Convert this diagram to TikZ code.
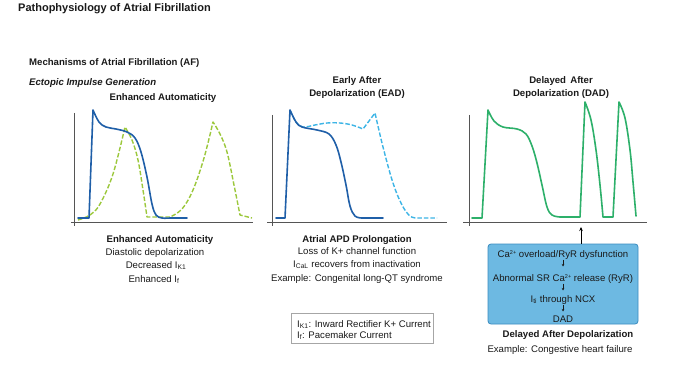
\documentclass[tikz,border=0pt]{standalone}
\usepackage{fontspec}
\setmainfont{Liberation Sans}
\usetikzlibrary{arrows.meta}
\definecolor{apblue}{HTML}{1F5FA8}
\definecolor{aplightblue}{HTML}{3DB5E6}
\definecolor{apyellowgreen}{HTML}{9CC83C}
\definecolor{apgreen}{HTML}{2DB06A}
\definecolor{axisgray}{HTML}{555555}
\definecolor{boxfill}{HTML}{6DB9E2}
\definecolor{boxline}{HTML}{3A8CC0}
\definecolor{txt}{HTML}{1A1A1A}
\newcommand{\supsmall}[1]{\raisebox{0.55ex}{\fontsize{5.5}{6}\selectfont #1}}
\tikzset{
  txtn/.style={inner sep=0pt, anchor=base, text=txt, font=\fontsize{9.6}{11.5}\selectfont},
  boldn/.style={txtn, font=\fontsize{9.6}{11.5}\selectfont\bfseries},
  axisline/.style={draw=axisgray, line width=0.8pt},
  curve/.style={line width=1.6pt, line join=round, line cap=round},
  dashcurve/.style={line width=1.4pt, dash pattern=on 4.5pt off 2pt, line join=round},
  smallarrow/.style={draw=txt, line width=0.6pt, -{Stealth[length=2.5pt,width=2.5pt]}},
}
\begin{document}
\begin{tikzpicture}[x=1pt,y=-1pt]
\useasboundingbox (0,0) rectangle (700,374);
\fill[white] (0,0) rectangle (700,374);

% headings
\node[boldn, anchor=base west, font=\fontsize{11}{13}\selectfont\bfseries] (title) at (18,12) {Pathophysiology of Atrial Fibrillation};
\node[boldn, anchor=base west] (mech) at (29,66) {Mechanisms of Atrial Fibrillation (AF)};
\node[boldn, anchor=base west, font=\fontsize{9.6}{11.5}\selectfont\bfseries\itshape] (ectopic) at (29,86) {Ectopic Impulse Generation};
\node[boldn] (eatitle) at (163,101) {Enhanced Automaticity};
\node[boldn] (eadt1) at (357,84) {Early After};
\node[boldn] (eadt2) at (357,97) {Depolarization (EAD)};
\node[boldn] (dadt1) at (561,84) {Delayed\, After};
\node[boldn] (dadt2) at (561,97) {Depolarization (DAD)};

% axes
\draw[axisline] (74,113) -- (74,226);
\draw[axisline] (71,222) -- (253,222);
\draw[axisline] (272,115) -- (272,226);
\draw[axisline] (267,222) -- (447,222);
\draw[axisline] (469,115) -- (469,226);
\draw[axisline] (463,222) -- (647,222);

% panel 1 curves
\draw[dashcurve, apyellowgreen] plot[smooth, tension=0.6] coordinates {(78,220) (90,215) (100,204) (113,174) (125,127)}
  -- plot[smooth, tension=0.6] coordinates {(125,127) (132,140) (138,160) (143,190) (147,217)}
  -- (170,217)
  -- plot[smooth, tension=0.6] coordinates {(170,217) (182,209) (193,190) (204,158) (213,122)}
  -- plot[smooth, tension=0.6] coordinates {(213,122) (220,134) (227,152) (234,185) (240,215)}
  -- (252,218);
\draw[curve, apblue] (78,218) -- (89,218) -- (93,110)
  -- plot[smooth, tension=0.6] coordinates {(93,110) (99,122) (106,127) (116,129) (127,132) (135,138) (141,152) (147,177) (152,204) (156,215) (162,218) (170,218)}
  -- (187,218);

% panel 2 curves
\draw[dashcurve, aplightblue] plot[smooth, tension=0.6] coordinates {(290,110) (296,122) (303,127) (315,125) (327,123) (340,123) (352,125) (363,129)}
  -- (375,113)
  -- plot[smooth, tension=0.6] coordinates {(375,113) (383,147) (393,183) (402,205) (410,216) (417,218)}
  -- (437,218);
\draw[curve, apblue] (276,218) -- (285,218) -- (290,110)
  -- plot[smooth, tension=0.6] coordinates {(290,110) (296,122) (302,127) (317,130) (329,134) (336,145) (341,162) (346,185) (350,206) (355,216) (362,218)}
  -- (383,218);

% panel 3 curve
\draw[curve, apgreen] (472,218) -- (482,218) -- (488,110)
  -- plot[smooth, tension=0.6] coordinates {(488,110) (494,121) (503,127) (517,129) (526,134) (532,146) (537,163) (542,185) (547,207) (552,215) (560,217)}
  -- (580,217) -- (585,102)
  -- plot[smooth, tension=0.6] coordinates {(585,102) (591,120) (596,150) (600,185) (603,217)}
  -- (613,217) -- (619,102)
  -- plot[smooth, tension=0.6] coordinates {(619,102) (625,118) (630,150) (633,182) (636,216)};

% panel 1 text
\node[boldn] (ea1) at (160,242) {Enhanced Automaticity};
\node[txtn] (ea2) at (155,255) {Diastolic depolarization};
\node[txtn] (ea3) at (156,268) {Decreased I\textsubscript{K1}};
\node[txtn] (ea4) at (154,282) {Enhanced I\textsubscript{f}};

% panel 2 text
\node[boldn] (apd1) at (357,242) {Atrial APD Prolongation};
\node[txtn] (apd2) at (357,254) {Loss of K+ channel function};
\node[txtn] (apd3) at (357,267) {I\textsubscript{CaL} recovers from inactivation};
\node[txtn] (apd4) at (357,281) {Example: Congenital long-QT syndrome};

% legend
\node[draw=gray!70, line width=0.6pt, minimum width=142pt, minimum height=30pt, inner sep=0pt] (legend) at (362,328) {};
\node[txtn, anchor=base west] (leg1) at (297,327) {I\textsubscript{K1}: Inward Rectifier K+ Current};
\node[txtn, anchor=base west] (leg2) at (297,338) {I\textsubscript{f}: Pacemaker Current};

% DAD box
\node[draw=boxline, fill=boxfill, line width=0.8pt, rounded corners=3pt, minimum width=150pt, minimum height=80pt, inner sep=0pt] (dadbox) at (563,284) {};
\coordinate (arrtip) at (581,227);
\draw[line width=1pt, -{Stealth[length=4pt,width=3.5pt]}] (dadbox.north -| arrtip) -- (arrtip);
\node[txtn] (b1) at (563,257) {Ca\supsmall{2+} overload/RyR dysfunction};
\node[txtn] (b2) at (563,281) {Abnormal SR Ca\supsmall{2+} release (RyR)};
\node[txtn] (b3) at (563,302) {I\textsubscript{ti} through NCX};
\node[txtn] (b4) at (563,322) {DAD};
\draw[smallarrow] ([yshift=-2.5pt]b1.base) -- ([yshift=-9.5pt]b1.base);
\draw[smallarrow] ([yshift=-2.5pt]b2.base) -- ([yshift=-9.5pt]b2.base);
\draw[smallarrow] ([yshift=-3pt]b3.base) -- ([yshift=-9.5pt]b3.base);
\node[boldn] (dad1) at (568,337) {Delayed After Depolarization};
\node[txtn] (dad2) at (560,352) {Example: Congestive heart failure};
\end{tikzpicture}
\end{document}
